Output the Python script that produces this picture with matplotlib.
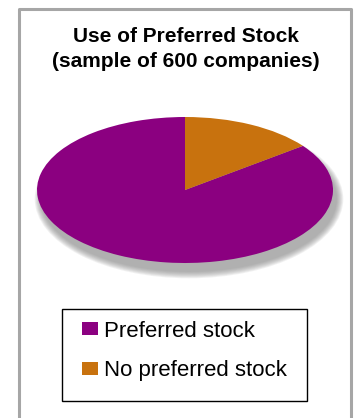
import matplotlib.pyplot as plt
from matplotlib.patches import Ellipse, Rectangle

# data
labels = ['Preferred stock', 'No preferred stock']
companies = [512, 88]
colors = ['#8b0080', '#c8720e']

W, H = 357, 418
plt.rcParams['font.family'] = ['Liberation Sans', 'DejaVu Sans']

fig = plt.figure(figsize=(W / 100, H / 100), dpi=100)

# outer gray frame (open at the bottom)
fig.add_artist(plt.Line2D([19 / W, 19 / W, 351 / W, 351 / W],
                          [0, 1 - 9 / H, 1 - 9 / H, 0],
                          color='#a6a6a6', lw=2.2, transform=fig.transFigure))

fig.text(186 / W, 1 - 49 / H, 'Use of Preferred Stock\n(sample of 600 companies)',
         ha='center', va='center', fontsize=15, fontweight='bold',
         linespacing=1.45)

# pie axes squeezed into an ellipse
ax = fig.add_axes([37 / W, 1 - 263 / H, 296 / W, 146 / H])
# soft shadow
sx, sy = 4 / 148, -9 / 73
for k in range(8):
    grow = (7 - k) * 0.9
    ax.add_patch(Ellipse((sx, sy), 2 + 2 * grow / 148, 2 + 2 * grow / 73,
                         color='#7a7a7a', alpha=0.1, lw=0, clip_on=False))
wedges, _ = ax.pie(companies, colors=colors, startangle=90, counterclock=True,
                   wedgeprops=dict(lw=0))
ax.set_aspect('auto')
ax.set_xlim(-1, 1)
ax.set_ylim(-1, 1)
ax.axis('off')

# legend box drawn by hand, legend itself frameless
fig.add_artist(Rectangle((62 / W, 1 - 401 / H), 245 / W, 92 / H,
                         fill=False, edgecolor='black', lw=1.0,
                         transform=fig.transFigure))
fig.legend(wedges, labels, loc='center left',
           bbox_to_anchor=(82 / W, 1 - 351 / H), borderaxespad=0,
           borderpad=0, fontsize=16, frameon=False,
           handlelength=0.72, handleheight=0.54, handletextpad=0.28,
           labelspacing=0.84)

fig.savefig('out.png', dpi=100)
